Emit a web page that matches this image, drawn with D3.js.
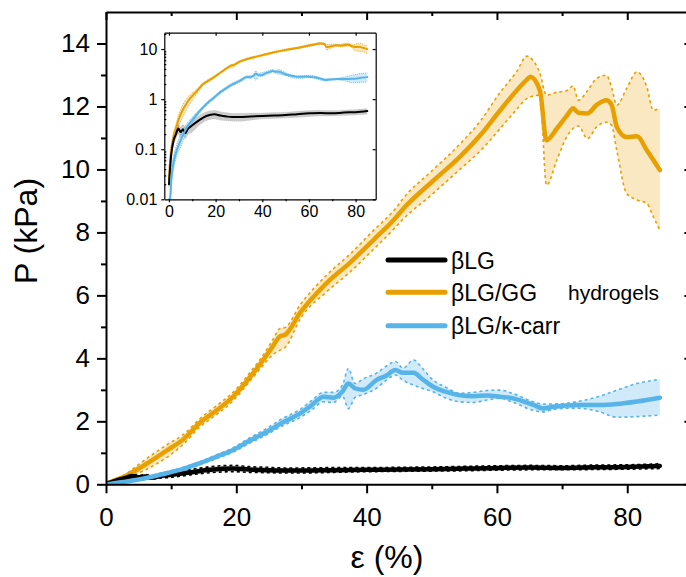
<!DOCTYPE html>
<html>
<head>
<meta charset="utf-8">
<script src="https://cdn.jsdelivr.net/npm/d3@7"></script>
<style>
body { margin: 0; background: #fff; }
svg { display: block; font-family: "Liberation Sans", Arial, sans-serif; }
.axe path, .axe line { stroke: #000; stroke-width: 2; }
.axeInset path, .axeInset line { stroke: #000; stroke-width: 1.2; }
</style>
</head>
<body>
<div id="chart"></div>
<script>
// Données : déformation (%) et pression (kPa)
var strainGG = [0, 0.5, 1, 2, 3, 4.2, 6, 7.5, 9.3, 12, 14.4, 17, 19.5, 22.1, 23.6, 25.5, 26.7, 27.5, 29.8, 33.9, 37.5, 41, 44.6, 45.5, 50, 54.3, 57.5, 60.5, 63, 64.6, 65.1, 66.6, 67.6, 69.2, 70.7, 71.7, 72.5, 73.9, 75.3, 76.8, 77.6, 78.4, 79.9, 81.5, 83, 84, 85];
var meanGG = [0.025, 0.06, 0.1, 0.18, 0.26, 0.4, 0.62, 0.82, 1.07, 1.45, 1.95, 2.35, 2.78, 3.4, 3.8, 4.35, 4.7, 4.75, 5.45, 6.4, 7.05, 7.75, 8.5, 8.72, 9.6, 10.4, 11.1, 11.88, 12.5, 12.85, 12.94, 12.5, 10.93, 11.3, 11.7, 11.94, 11.8, 11.78, 12.05, 12.2, 12.05, 11.35, 11.03, 11.05, 10.61, 10.3, 9.98];
var loGG = [0.018, 0.045, 0.08, 0.15, 0.21, 0.3, 0.45, 0.62, 0.85, 1.3, 1.82, 2.22, 2.65, 3.28, 3.65, 4.1, 4.26, 4.35, 5.25, 6.12, 6.75, 7.45, 8.2, 8.4, 9.2, 10.0, 10.6, 11.3, 11.9, 12.25, 12.3, 12.36, 9.5, 10.3, 11.03, 11.3, 11.38, 10.98, 11.35, 11.5, 11.4, 10.6, 9.24, 9.03, 8.92, 8.5, 8.07];
var hiGG = [0.035, 0.075, 0.12, 0.22, 0.32, 0.5, 0.78, 1.0, 1.25, 1.6, 2.08, 2.5, 2.92, 3.55, 3.95, 4.55, 4.95, 4.98, 5.7, 6.65, 7.32, 8.05, 8.8, 9.05, 9.95, 10.8, 11.55, 12.45, 13.1, 13.6, 13.55, 13.05, 12.36, 12.45, 12.5, 12.65, 12.2, 12.5, 12.89, 12.99, 12.6, 12.04, 12.57, 13.1, 12.62, 11.88, 11.94];

var strainKC = [0, 0.5, 1, 2, 3, 5, 7, 9.3, 12, 14.4, 17, 19.5, 22, 24.7, 27, 29.8, 31.5, 33.4, 34.9, 36.3, 37.2, 38.2, 39.5, 41.5, 43, 44.4, 45.6, 47.2, 48.5, 50.2, 52, 54.3, 56.4, 58.5, 60.5, 62.5, 65.6, 67.1, 68.7, 72.2, 75.8, 78.4, 81.5, 85];
var meanKC = [0.004, 0.01, 0.025, 0.055, 0.085, 0.15, 0.24, 0.35, 0.5, 0.67, 0.88, 1.09, 1.38, 1.67, 1.95, 2.25, 2.5, 2.78, 2.75, 2.95, 3.2, 3.05, 3.0, 3.31, 3.45, 3.63, 3.54, 3.54, 3.35, 3.1, 2.95, 2.83, 2.8, 2.82, 2.78, 2.73, 2.52, 2.41, 2.46, 2.52, 2.52, 2.55, 2.63, 2.75];
var loKC = [0.003, 0.007, 0.018, 0.04, 0.065, 0.11, 0.19, 0.3, 0.45, 0.62, 0.82, 1.02, 1.3, 1.58, 1.85, 2.12, 2.35, 2.62, 2.6, 2.8, 2.4, 2.75, 2.85, 3.05, 3.3, 3.47, 3.3, 3.15, 3.05, 2.94, 2.75, 2.62, 2.6, 2.68, 2.73, 2.6, 2.35, 2.3, 2.38, 2.42, 2.3, 2.13, 2.15, 2.2];
var hiKC = [0.006, 0.014, 0.035, 0.075, 0.11, 0.2, 0.29, 0.4, 0.55, 0.72, 0.94, 1.16, 1.47, 1.78, 2.08, 2.38, 2.65, 2.92, 2.92, 3.15, 3.68, 3.2, 3.35, 3.53, 3.75, 3.9, 3.69, 3.95, 3.7, 3.31, 3.1, 2.89, 2.92, 2.98, 2.99, 2.88, 2.62, 2.55, 2.55, 2.62, 2.8, 2.99, 3.2, 3.33];

var strainLG = [0, 1, 2, 3, 4, 5, 6, 7, 8, 10, 13, 16, 19.5, 22, 24.7, 27, 30, 35, 40, 45, 50, 55, 60.5, 65, 70, 75, 80, 85];
var meanLG = [0.02, 0.08, 0.15, 0.2, 0.26, 0.22, 0.25, 0.21, 0.25, 0.3, 0.38, 0.46, 0.5, 0.47, 0.45, 0.44, 0.44, 0.45, 0.46, 0.47, 0.48, 0.5, 0.52, 0.53, 0.52, 0.54, 0.55, 0.58];
var loLG = [0.015, 0.06, 0.12, 0.16, 0.2, 0.17, 0.19, 0.16, 0.19, 0.22, 0.3, 0.37, 0.4, 0.38, 0.37, 0.36, 0.36, 0.38, 0.4, 0.41, 0.42, 0.43, 0.45, 0.46, 0.46, 0.47, 0.48, 0.5];
var hiLG = [0.025, 0.1, 0.18, 0.25, 0.32, 0.28, 0.31, 0.28, 0.32, 0.38, 0.47, 0.56, 0.6, 0.56, 0.54, 0.52, 0.52, 0.53, 0.53, 0.54, 0.55, 0.57, 0.59, 0.6, 0.59, 0.61, 0.62, 0.65];

var legendLabels = ["\u03B2LG", "\u03B2LG/GG", "\u03B2LG/\u03BA-carr"];
var xTicks = [0, 20, 40, 60, 80];
var xMinor = [10, 30, 50, 70];
var yTicks = [0, 2, 4, 6, 8, 10, 12, 14];
var yMinor = [1, 3, 5, 7, 9, 11, 13];
var insetXTicks = [0, 20, 40, 60, 80];
var insetYTicks = [0.01, 0.1, 1, 10];

var orange = "#E8A000", bleu = "#56B4E9";

var svg = d3.select("#chart").append("svg")
    .attr("width", 686)
    .attr("height", 577);

// échelles du graphe principal
var x = d3.scaleLinear().domain([0, 90]).range([106, 692.4]);
var y = d3.scaleLinear().domain([0, 15]).range([484.3, 12]);

svg.append("clipPath").attr("id", "clipMain").append("rect")
    .attr("x", 106).attr("y", 12).attr("width", 586).attr("height", 472.3);

var series = [
    { xs: strainGG, m: meanGG, lo: loGG, hi: hiGG, c: orange, bord: orange, fill: "rgba(232,160,0,0.24)" },
    { xs: strainLG, m: meanLG, lo: loLG, hi: hiLG, c: "#000", bord: "#000", fill: "rgba(0,0,0,0.15)" },
    { xs: strainKC, m: meanKC, lo: loKC, hi: hiKC, c: bleu, bord: bleu, fill: "rgba(86,180,233,0.28)" }
];

function dessine(g, sx, sy, s, wLigne, wBord, dash) {
    var area = d3.area()
        .x(function(d, i) { return sx(s.xs[i]); })
        .y0(function(d, i) { return sy(s.lo[i]); })
        .y1(function(d, i) { return sy(s.hi[i]); })
        .curve(d3.curveMonotoneX);
    var line = function(arr) {
        return d3.line()
            .x(function(d, i) { return sx(s.xs[i]); })
            .y(function(d) { return sy(d); })
            .curve(d3.curveMonotoneX)(arr);
    };
    g.append("path").attr("d", area(s.m)).attr("fill", s.fill).attr("stroke", "none");
    [s.lo, s.hi].forEach(function(b) {
        g.append("path").attr("d", line(b)).attr("fill", "none")
            .attr("stroke", s.bord).attr("stroke-width", wBord).attr("stroke-dasharray", dash);
    });
    return function() {
        g.append("path").attr("d", line(s.m)).attr("fill", "none")
            .attr("stroke", s.c).attr("stroke-width", wLigne)
            .attr("stroke-linejoin", "round").attr("stroke-linecap", "round");
    };
}

var plot = svg.append("g").attr("clip-path", "url(#clipMain)");
var lignes = series.map(function(s) { return dessine(plot, x, y, s, 4.5, 1.6, "3,3"); });
lignes.forEach(function(f) { f(); });

// axes principaux
svg.append("g").attr("class", "axe").attr("transform", "translate(0,484.3)")
    .call(d3.axisBottom(x).tickValues(xTicks).tickSize(9).tickSizeOuter(0).tickPadding(14))
    .call(function(g) { g.selectAll("text").attr("font-size", 26).attr("fill", "#000").attr("font-family", "Liberation Sans, Arial, sans-serif"); });
svg.append("g").attr("class", "axe").attr("transform", "translate(0,484.3)")
    .call(d3.axisBottom(x).tickValues(xMinor).tickSize(5).tickFormat(""))
    .select(".domain").remove();

svg.append("g").attr("class", "axe").attr("transform", "translate(106,0)")
    .call(d3.axisLeft(y).tickValues(yTicks).tickSize(9).tickSizeOuter(0).tickPadding(7))
    .call(function(g) { g.selectAll("text").attr("font-size", 26).attr("fill", "#000").attr("font-family", "Liberation Sans, Arial, sans-serif"); });
svg.append("g").attr("class", "axe").attr("transform", "translate(106,0)")
    .call(d3.axisLeft(y).tickValues(yMinor).tickSize(5).tickFormat(""))
    .select(".domain").remove();

// bords haut et droite, graduations vers l'intérieur
svg.append("g").attr("class", "axe").attr("transform", "translate(0,12)")
    .call(d3.axisBottom(x).tickValues(xTicks).tickSize(8).tickSizeOuter(0).tickFormat(""));
svg.append("g").attr("class", "axe").attr("transform", "translate(0,12)")
    .call(d3.axisBottom(x).tickValues(xMinor).tickSize(4).tickFormat(""))
    .select(".domain").remove();
svg.append("g").attr("class", "axe").attr("transform", "translate(692.4,0)")
    .call(d3.axisLeft(y).tickValues(yTicks).tickSize(8).tickSizeOuter(0).tickFormat(""));

// titres des axes
svg.append("text").attr("x", 387).attr("y", 568).attr("text-anchor", "middle")
    .attr("font-size", 32).text("\u03B5 (%)");
svg.append("text").attr("transform", "translate(37,231) rotate(-90)").attr("text-anchor", "middle")
    .attr("font-size", 32).text("P (kPa)");

// légende
var legCouleurs = ["#000", orange, bleu];
var legY = [260, 292.3, 325.7];
legendLabels.forEach(function(t, i) {
    svg.append("line").attr("x1", 388).attr("x2", 445).attr("y1", legY[i]).attr("y2", legY[i])
        .attr("stroke", legCouleurs[i]).attr("stroke-width", 5).attr("stroke-linecap", "round");
    svg.append("text").attr("x", 451).attr("y", legY[i] + 8.5).attr("font-size", 23).text(t);
});
svg.append("text").attr("x", 568).attr("y", 300).attr("font-size", 21).text("hydrogels");

// encart en échelle log
var xi = d3.scaleLinear().domain([-2, 88.6]).range([164.3, 375.7]);
var yi = d3.scaleLog().domain([0.01, 21.2]).range([199.3, 32.7]).clamp(true);

svg.append("rect").attr("x", 164.3).attr("y", 32.7).attr("width", 211.4).attr("height", 166.6)
    .attr("fill", "#fff");
svg.append("clipPath").attr("id", "clipInset").append("rect")
    .attr("x", 164.3).attr("y", 32.7).attr("width", 211.4).attr("height", 166.6);

var encart = svg.append("g").attr("clip-path", "url(#clipInset)");
var seriesInset = series.map(function(s) {
    var c = Object.assign({}, s);
    if (s.c === "#000") { c.fill = "rgba(0,0,0,0.2)"; c.bord = "rgba(0,0,0,0.12)"; }
    return c;
});
var lignesInset = seriesInset.map(function(s) { return dessine(encart, xi, yi, s, 2, 0.8, "1,1"); });
lignesInset.forEach(function(f) { f(); });

var fontInset = function(g) { g.selectAll("text").attr("font-size", 16).attr("fill", "#000").attr("font-family", "Liberation Sans, Arial, sans-serif"); };
var minorLog = [];
[0.01, 0.1, 1, 10].forEach(function(d) { for (var k = 2; k <= 9; k++) if (d * k < 21) minorLog.push(d * k); });

svg.append("g").attr("class", "axeInset").attr("transform", "translate(0,199.3)")
    .call(d3.axisBottom(xi).tickValues(insetXTicks).tickSize(3).tickSizeOuter(0).tickPadding(3).tickFormat(d3.format("d")))
    .call(fontInset);
svg.append("g").attr("class", "axeInset").attr("transform", "translate(0,199.3)")
    .call(d3.axisBottom(xi).tickValues([10, 30, 50, 70]).tickSize(2).tickFormat(""))
    .select(".domain").remove();
svg.append("g").attr("class", "axeInset").attr("transform", "translate(164.3,0)")
    .call(d3.axisLeft(yi).tickValues(insetYTicks).tickSize(3).tickSizeOuter(0).tickPadding(4).tickFormat(function(d) { return d; }))
    .call(fontInset);
svg.append("g").attr("class", "axeInset").attr("transform", "translate(164.3,0)")
    .call(d3.axisRight(yi).tickValues(minorLog).tickSize(2).tickFormat(""))
    .select(".domain").remove();
svg.append("g").attr("class", "axeInset").attr("transform", "translate(0,32.7)")
    .call(d3.axisBottom(xi).tickValues(insetXTicks).tickSize(3).tickSizeOuter(0).tickFormat(""));
svg.append("g").attr("class", "axeInset").attr("transform", "translate(375.7,0)")
    .call(d3.axisLeft(yi).tickValues(insetYTicks).tickSize(3).tickSizeOuter(0).tickFormat(""));
</script>
</body>
</html>
